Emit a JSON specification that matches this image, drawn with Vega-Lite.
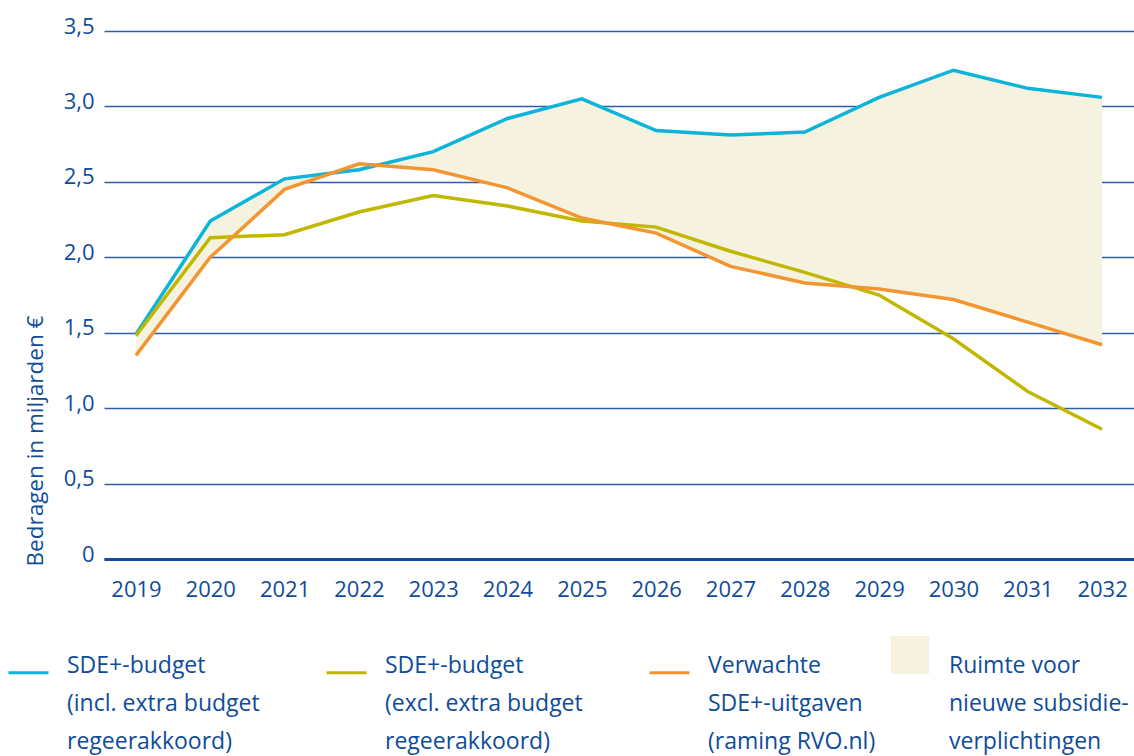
{
  "$schema": "https://vega.github.io/schema/vega-lite/v6.json",
  "width": 1030,
  "height": 528,
  "autosize": {"type": "none"},
  "padding": {"left": 104, "top": 31, "right": 0, "bottom": 197},
  "background": "white",
  "config": {
    "font": "Open Sans",
    "view": {"stroke": null},
    "style": {"guide-label": {"lineHeight": 38}}
  },
  "data": {
    "values": [
      {"year": 2019, "incl": 1.49, "excl": 1.48, "uitgaven": 1.35},
      {"year": 2020, "incl": 2.24, "excl": 2.13, "uitgaven": 2.00},
      {"year": 2021, "incl": 2.52, "excl": 2.15, "uitgaven": 2.45},
      {"year": 2022, "incl": 2.58, "excl": 2.30, "uitgaven": 2.62},
      {"year": 2023, "incl": 2.70, "excl": 2.41, "uitgaven": 2.58},
      {"year": 2024, "incl": 2.92, "excl": 2.34, "uitgaven": 2.46},
      {"year": 2025, "incl": 3.05, "excl": 2.24, "uitgaven": 2.26},
      {"year": 2026, "incl": 2.84, "excl": 2.20, "uitgaven": 2.16},
      {"year": 2027, "incl": 2.81, "excl": 2.04, "uitgaven": 1.94},
      {"year": 2028, "incl": 2.83, "excl": 1.90, "uitgaven": 1.83},
      {"year": 2029, "incl": 3.06, "excl": 1.75, "uitgaven": 1.79},
      {"year": 2030, "incl": 3.24, "excl": 1.46, "uitgaven": 1.72},
      {"year": 2031, "incl": 3.12, "excl": 1.11, "uitgaven": 1.57},
      {"year": 2032, "incl": 3.06, "excl": 0.86, "uitgaven": 1.42}
    ]
  },
  "encoding": {
    "x": {
      "field": "year",
      "type": "ordinal",
      "scale": {"type": "point", "padding": 0.43},
      "axis": {
        "title": null,
        "labelAngle": 0,
        "labelFontSize": 22,
        "labelColor": "#0f4c9a",
        "labelPadding": 20,
        "ticks": false,
        "grid": false,
        "domain": true,
        "domainColor": "#0f4c9a",
        "domainWidth": 3
      }
    }
  },
  "layer": [
    {
      "mark": {"type": "area", "opacity": 1, "interpolate": "linear"},
      "encoding": {
        "y": {
          "field": "uitgaven",
          "type": "quantitative",
          "scale": {"domain": [0, 3.5], "nice": false},
          "axis": {
            "title": "Bedragen in miljarden €",
            "titleFontSize": 22.5,
            "titleFontWeight": "normal",
            "titleColor": "#0f4c9a",
            "titleAngle": -90,
            "titleAlign": "left",
            "titleBaseline": "bottom",
            "titleX": -57,
            "titleY": 535,
            "values": [0, 0.5, 1, 1.5, 2, 2.5, 3, 3.5],
            "labelExpr": "datum.value == 0 ? '0' : replace(format(datum.value, '.1f'), '.', ',')",
            "labelFontSize": 22,
            "labelColor": "#0f4c9a",
            "labelPadding": 10,
            "labelOffset": -5,
            "ticks": false,
            "domain": false,
            "grid": true,
            "gridColor": "#2c5ea8",
            "gridWidth": 1.3
          }
        },
        "y2": {"field": "incl"},
        "fill": {
          "datum": "ruimte",
          "type": "nominal",
          "scale": {"domain": ["ruimte"], "range": ["#f5f3df"]},
          "legend": {
            "title": null,
            "orient": "none",
            "legendX": 787,
            "legendY": 605,
            "symbolType": "square",
            "symbolSize": 1444,
            "symbolStrokeWidth": 0,
            "symbolOpacity": 1,
            "labelFontSize": 23,
            "labelColor": "#0f4c9a",
            "labelOffset": 20,
            "labelBaseline": "top",
            "labelLimit": 400,
            "labelExpr": "['Ruimte voor', 'nieuwe subsidie-', 'verplichtingen']"
          }
        }
      }
    },
    {
      "transform": [{"fold": ["incl", "excl", "uitgaven"], "as": ["serie", "waarde"]}],
      "mark": {"type": "line", "strokeWidth": 3.5, "strokeJoin": "miter"},
      "encoding": {
        "y": {"field": "waarde", "type": "quantitative"},
        "stroke": {
          "field": "serie",
          "type": "nominal",
          "scale": {
            "domain": ["incl", "excl", "uitgaven"],
            "range": ["#0bb4d8", "#c2b700", "#f39530"]
          },
          "legend": {
            "title": null,
            "orient": "none",
            "legendX": -97,
            "legendY": 620,
            "direction": "horizontal",
            "columns": 3,
            "columnPadding": 60,
            "symbolType": "stroke",
            "symbolSize": 1600,
            "symbolStrokeWidth": 3,
            "labelFontSize": 23,
            "labelColor": "#0f4c9a",
            "labelOffset": 17,
            "labelBaseline": "alphabetic",
            "labelLimit": 400,
            "labelExpr": "datum.label == 'incl' ? ['SDE+-budget', '(incl. extra budget', '\u00a0regeerakkoord)'] : datum.label == 'excl' ? ['SDE+-budget', '(excl. extra budget', '\u00a0regeerakkoord)'] : ['Verwachte', 'SDE+-uitgaven', '(raming RVO.nl)']"
          }
        }
      }
    }
  ]
}
